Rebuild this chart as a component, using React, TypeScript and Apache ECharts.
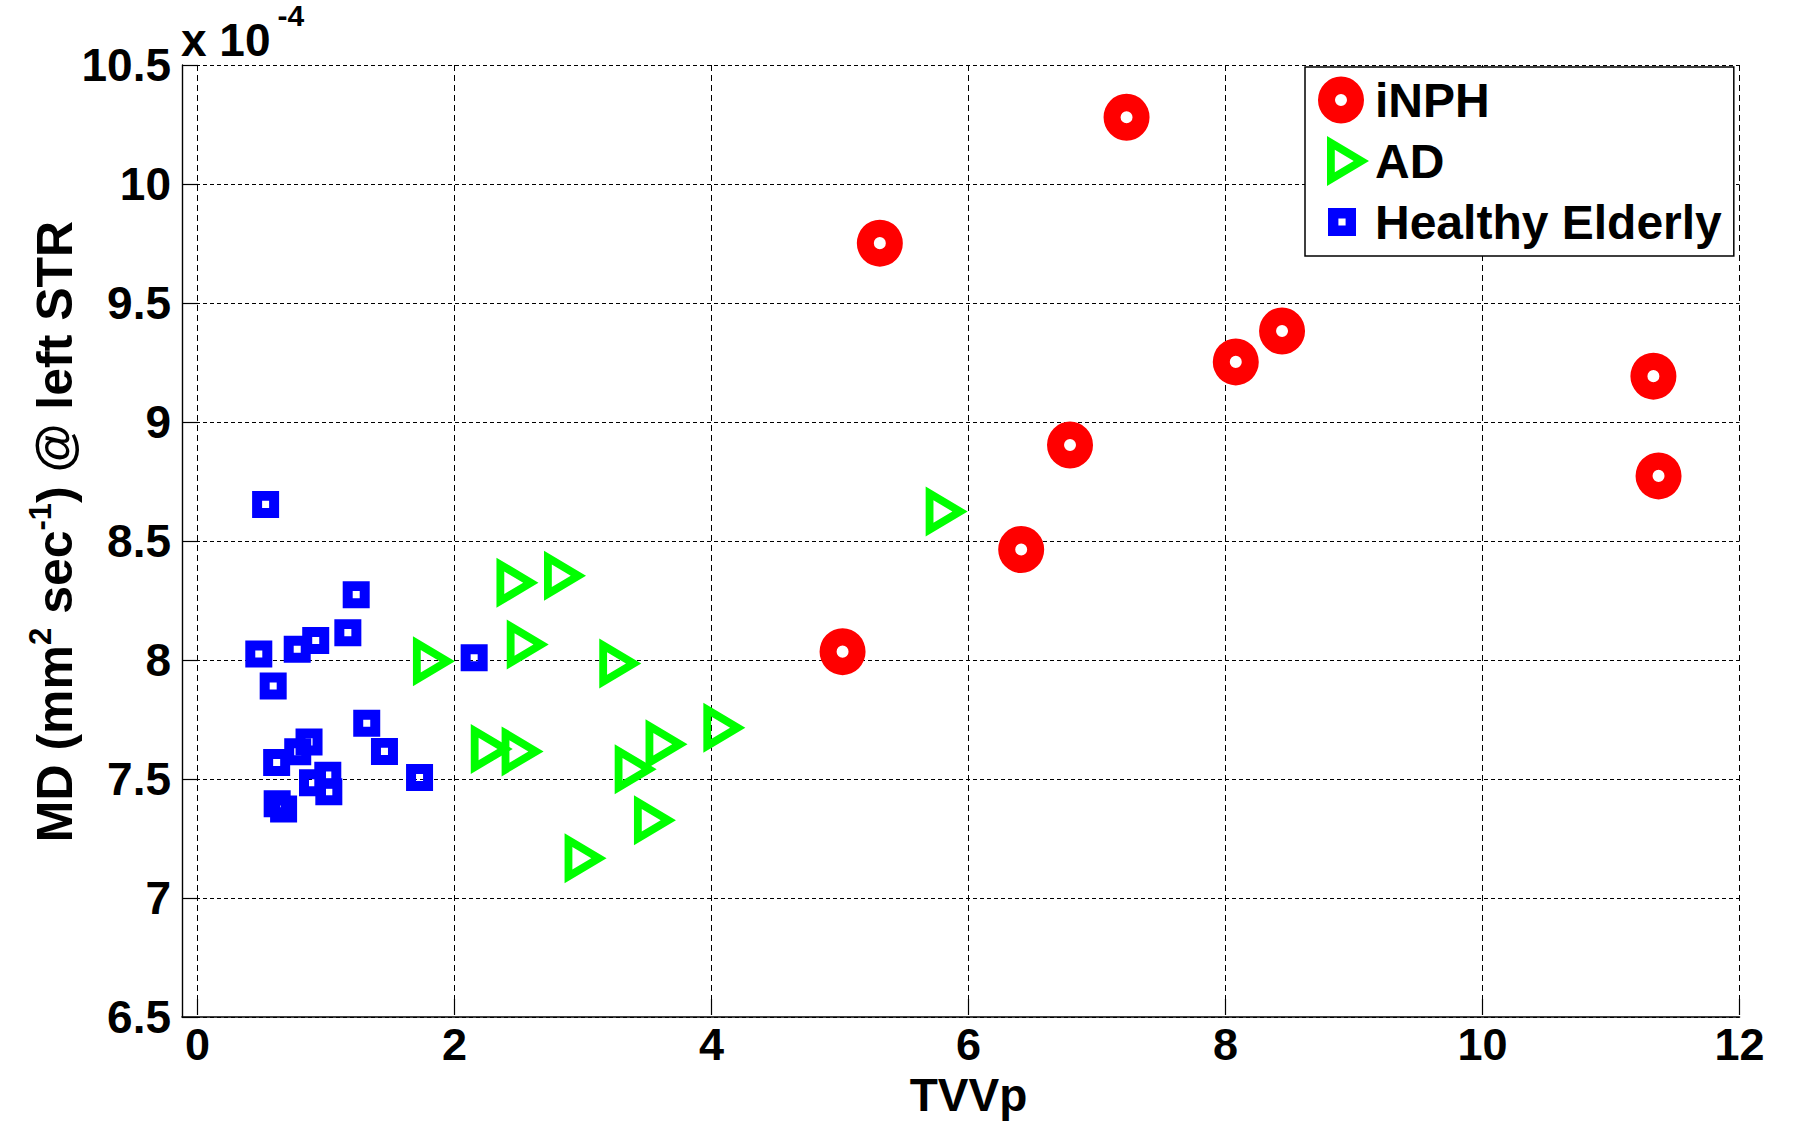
import React, { useEffect, useRef } from 'react';
import * as echarts from 'echarts';

const FONT = '"Liberation Sans", Arial, Helvetica, sans-serif';

// ---- data ----
const SERIES_NAMES = ['iNPH', 'AD', 'Healthy Elderly'];
const SERIES_COLORS = ['#ff0000', '#00ff00', '#0000ff'];

const INPH_X = [7.23, 5.31, 8.44, 8.08, 11.33, 6.79, 11.37, 6.41, 5.02];
const INPH_Y = [10.28, 9.75, 9.38, 9.25, 9.19, 8.9, 8.77, 8.46, 8.03];

const AD_X = [5.83, 1.84, 2.49, 2.86, 2.57, 3.29, 2.29, 2.53, 4.1, 3.65, 3.41, 3.56, 3.02];
const AD_Y = [8.62, 7.99, 8.32, 8.35, 8.06, 7.98, 7.62, 7.61, 7.71, 7.64, 7.535, 7.32, 7.16];

const HE_X = [0.53, 1.235, 1.17, 0.92, 0.776, 0.477, 0.589, 2.153, 1.317, 1.455, 1.728, 0.868, 0.78, 0.616, 1.014, 0.895, 1.022, 0.62, 0.67];
const HE_Y = [8.65, 8.27, 8.11, 8.077, 8.04, 8.02, 7.885, 8.004, 7.728, 7.61, 7.5, 7.65, 7.608, 7.563, 7.51, 7.478, 7.44, 7.39, 7.367];

const X_MIN = 0;
const X_MAX = 12;
const X_STEP = 2;
const X_AXIS_START = -0.12;
const Y_MIN = 6.5;
const Y_MAX = 10.5;
const Y_STEP = 0.5;
const X_NAME = 'TVVp';
const Y_NAME = 'MD (mm{s|2} sec{s|-1}) @ left STR';
const Y_EXPONENT = 'x 10{s|-4}';

// ---- marker shapes (rings with holes) ----
const SYM_RING = 'path://M0 50A50 50 0 0 1 100 50A50 50 0 0 1 0 50ZM37 50A13 13 0 0 0 63 50A13 13 0 0 0 37 50Z';
const SYM_TRI = 'path://M0 0L100 50L0 100ZM18.6 27.5L18.6 72.5L63.6 50Z';
const SYM_SQ = 'path://M0 0L100 0L100 100L0 100ZM37 37L37 63L63 63L63 37Z';

const LEG_RING = 'path://M0 0M52 50M0 25A23 23.5 0 0 1 46 25A23 23.5 0 0 1 0 25ZM17 25A6 6 0 0 0 29 25A6 6 0 0 0 17 25Z';
const LEG_TRI = 'path://M0 0M52 50M9 0L51 25L9 50ZM16.8 13.75L16.8 36.25L35.7 25Z';
const LEG_SQ = 'path://M0 0M52 50M10 11L38 11L38 39L10 39ZM20.4 21.4L20.4 28.6L27.6 28.6L27.6 21.4Z';

const zip = (xs: number[], ys: number[]) => xs.map((x, i) => [x, ys[i]]);

function App() {
  const ref = useRef<HTMLDivElement>(null);

  useEffect(() => {
    if (!ref.current) return;
    const chart = echarts.init(ref.current, null, { renderer: 'svg' });

    const gridPos = { top: 65, bottom: 106, right: 60.5 };
    const tickStyle = { color: '#000', width: 1.2 };

    const option: any = {
      animation: false,
      backgroundColor: '#fff',
      textStyle: { fontFamily: FONT },
      title: {
        text: Y_EXPONENT,
        left: 181,
        top: 0,
        padding: 0,
        textStyle: {
          fontFamily: FONT,
          fontSize: 46,
          fontWeight: 'bold',
          color: '#000',
          lineHeight: 79,
          rich: {
            s: {
              fontFamily: FONT,
              fontSize: 30,
              fontWeight: 'bold',
              color: '#000',
              lineHeight: 34,
              verticalAlign: 'top',
              padding: [0, 0, 0, 7],
            },
          },
        },
      },
      grid: [
        { left: 182, ...gridPos, containLabel: false },
        { left: 197.5, ...gridPos, containLabel: false },
      ],
      xAxis: [
        {
          type: 'value',
          gridIndex: 0,
          min: X_AXIS_START,
          max: X_MAX,
          axisLine: { show: true, onZero: false, lineStyle: { color: '#000', width: 1.6 } },
          axisTick: { show: false },
          axisLabel: { show: false },
          splitLine: { show: false },
        },
        {
          type: 'value',
          gridIndex: 1,
          min: X_MIN,
          max: X_MAX,
          interval: X_STEP,
          name: X_NAME,
          nameLocation: 'middle',
          nameGap: 58,
          nameMoveOverlap: false,
          nameTextStyle: { fontFamily: FONT, fontSize: 46, fontWeight: 'bold', color: '#000', lineHeight: 44 },
          axisLine: { show: false, onZero: false },
          axisTick: { show: true, inside: true, length: 16, lineStyle: tickStyle },
          axisLabel: {
            show: true,
            margin: 7,
            fontFamily: FONT,
            fontSize: 45,
            fontWeight: 'bold',
            color: '#000',
            lineHeight: 44,
          },
          splitLine: { show: true, lineStyle: { color: '#000', width: 1, type: [6, 4] } },
        },
      ],
      yAxis: [
        {
          type: 'value',
          gridIndex: 0,
          min: Y_MIN,
          max: Y_MAX,
          interval: Y_STEP,
          name: Y_NAME,
          nameLocation: 'middle',
          nameRotate: 90,
          nameGap: 97,
          nameMoveOverlap: false,
          nameTextStyle: {
            fontFamily: FONT,
            fontSize: 50,
            fontWeight: 'bold',
            color: '#000',
            lineHeight: 60,
            padding: [0, 0, 0, 19],
            rich: {
              s: {
                fontFamily: FONT,
                fontSize: 31,
                fontWeight: 'bold',
                color: '#000',
                lineHeight: 26,
                verticalAlign: 'top',
              },
            },
          },
          axisLine: { show: true, onZero: false, lineStyle: { color: '#000', width: 1.4 } },
          axisTick: { show: true, inside: true, length: 16, lineStyle: tickStyle },
          axisLabel: {
            show: true,
            margin: 11,
            fontFamily: FONT,
            fontSize: 46,
            fontWeight: 'bold',
            color: '#000',
          },
          splitLine: { show: true, lineStyle: { color: '#000', width: 1, type: [4, 3] } },
        },
        {
          type: 'value',
          gridIndex: 1,
          min: Y_MIN,
          max: Y_MAX,
          interval: Y_STEP,
          show: false,
          splitLine: { show: false },
        },
      ],
      legend: {
        show: true,
        orient: 'vertical',
        left: 1305,
        top: 67,
        padding: [8, 12, 9, 13],
        itemWidth: 52,
        itemHeight: 50,
        itemGap: 11,
        selectedMode: false,
        backgroundColor: '#fff',
        borderColor: '#000',
        borderWidth: 1.5,
        symbolKeepAspect: true,
        itemStyle: { borderWidth: 0 },
        textStyle: { fontFamily: FONT, fontSize: 48, fontWeight: 'bold', color: '#000', lineHeight: 50 },
        data: [
          { name: SERIES_NAMES[0], icon: LEG_RING },
          { name: SERIES_NAMES[1], icon: LEG_TRI },
          { name: SERIES_NAMES[2], icon: LEG_SQ },
        ],
      },
      series: [
        {
          name: SERIES_NAMES[0],
          type: 'scatter',
          xAxisIndex: 1,
          yAxisIndex: 1,
          symbol: SYM_RING,
          symbolSize: [46, 47],
          itemStyle: { color: SERIES_COLORS[0], borderWidth: 0, opacity: 1 },
          emphasis: { disabled: true },
          data: zip(INPH_X, INPH_Y),
        },
        {
          name: SERIES_NAMES[1],
          type: 'scatter',
          xAxisIndex: 1,
          yAxisIndex: 1,
          symbol: SYM_TRI,
          symbolSize: [42, 50],
          itemStyle: { color: SERIES_COLORS[1], borderWidth: 0, opacity: 1 },
          emphasis: { disabled: true },
          data: zip(AD_X, AD_Y),
        },
        {
          name: SERIES_NAMES[2],
          type: 'scatter',
          xAxisIndex: 1,
          yAxisIndex: 1,
          symbol: SYM_SQ,
          symbolSize: [27, 27],
          itemStyle: { color: SERIES_COLORS[2], borderWidth: 0, opacity: 1 },
          emphasis: { disabled: true },
          data: zip(HE_X, HE_Y),
        },
      ],
    };

    chart.setOption(option);
    return () => {
      chart.dispose();
    };
  }, []);

  return (
    <div
      ref={ref}
      style={{ position: 'fixed', left: 0, top: 0, width: 1800, height: 1123, background: '#fff' }}
    />
  );
}

export default App;
